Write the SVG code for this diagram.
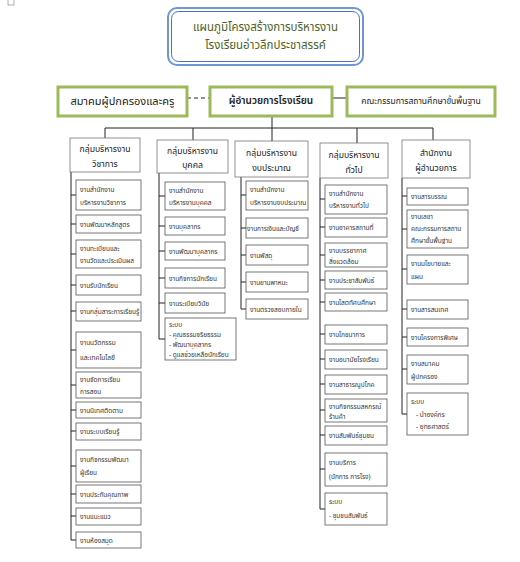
<svg xmlns="http://www.w3.org/2000/svg" width="520" height="562" viewBox="0 0 520 562">
<style>
text{font-family:"Noto Sans Thai","Tahoma","DejaVu Sans",sans-serif;}
.bg{fill:#fff}
.tt{font-size:11.5px;fill:#4f6228;text-anchor:middle}
.gb{fill:#fff;stroke:#9bbb59;stroke-width:3}
.hd{fill:#fff;stroke:#777;stroke-width:0.8}
.ht{font-size:8.6px;fill:#222;text-anchor:middle}
.it{fill:#fff;stroke:#555;stroke-width:0.8}
.t{font-size:6.5px;fill:#333}
.c{stroke:#222;stroke-width:1;fill:none}
</style>
<rect class="bg" x="0" y="0" width="520" height="562"/>
<path d="M8 0V5H14V0" fill="none" stroke="#999" stroke-width="0.8"/>
<g id="title">
<rect x="168" y="8" width="195" height="57" rx="9" fill="#fff" stroke="#6d96d4" stroke-width="2"/>
<rect x="171.5" y="11.5" width="188" height="50" rx="7" fill="none" stroke="#4472c4" stroke-width="1"/>
<text class="tt" x="265.5" y="31">แผนภูมิโครงสร้างการบริหารงาน</text>
<text class="tt" x="265.5" y="49">โรงเรียนอ่าวลึกประชาสรรค์</text>
</g>
<g id="connectors">
<path class="c" d="M187 98H210" stroke-dasharray="4,3"/>
<path class="c" d="M332 98H347"/>
<path class="c" d="M272 116V128M105 128H433M105 128V138M193 128V140M272 128V141M357 128V143M433 128V140"/>
<path class="c" d="M71 172V540M71 195H76M71 224H76M71 254H76M71 285H76M71 311H76M71 350H76M71 385H76M71 410H76M71 431H76M71 466H76M71 494H76M71 516H76M71 540H76"/>
<path class="c" d="M159 173V339M159 196H165M159 226H165M159 251H165M159 278H165M159 303H165M159 339H165"/>
<path class="c" d="M241 177V309M241 195H246M241 228H246M241 255H246M241 282H246M241 309H246"/>
<path class="c" d="M320 178V509M320 199H325M320 227H325M320 255H325M320 280H325M320 302H325M320 334H325M320 359H325M320 384H325M320 410H325M320 435H325M320 469H325M320 509H325"/>
<path class="c" d="M402 178V414M402 196H407M402 229H407M402 269H407M402 309H407M402 337H407M402 369H407M402 414H407"/>
</g>
<g id="association">
<rect class="gb" x="58" y="87" width="129" height="29"/>
<text x="122.5" y="105" font-size="11" fill="#222" text-anchor="middle">สมาคมผู้ปกครองและครู</text>
</g>
<g id="director">
<rect class="gb" x="210" y="87" width="122" height="29"/>
<text x="271" y="104" font-size="10" font-weight="600" fill="#222" text-anchor="middle">ผู้อำนวยการโรงเรียน</text>
</g>
<g id="committee">
<rect class="gb" x="347" y="87" width="148" height="29"/>
<text x="421" y="104" font-size="8.5" fill="#222" text-anchor="middle">คณะกรรมการสถานศึกษาขั้นพื้นฐาน</text>
</g>
<g id="col1">
<rect class="hd" x="70" y="138" width="70" height="34"/>
<text class="ht" x="105" y="152">กลุ่มบริหารงาน</text>
<text class="ht" x="105" y="167">วิชาการ</text>
<rect class="it" x="76" y="180" width="65" height="30"/><text class="t" x="80" y="192">งานสำนักงาน</text><text class="t" x="80" y="205">บริหารงานวิชาการ</text>
<rect class="it" x="76" y="215" width="65" height="18"/><text class="t" x="80" y="227">งานพัฒนาหลักสูตร</text>
<rect class="it" x="76" y="240" width="65" height="28"/><text class="t" x="80" y="251">งานทะเบียนและ</text><text class="t" x="80" y="263" font-size="6">งานวัดและประเมินผล</text>
<rect class="it" x="76" y="275" width="65" height="20"/><text class="t" x="80" y="288">งานรับนักเรียน</text>
<rect class="it" x="76" y="302" width="65" height="19"/><text class="t" x="80" y="314" font-size="5.6">งานกลุ่มสาระการเรียนรู้</text>
<rect class="it" x="76" y="332" width="65" height="36"/><text class="t" x="80" y="345" font-size="7.5">งานนวัตกรรม</text><text class="t" x="80" y="360" font-size="7.5">และเทคโนโลยี</text>
<rect class="it" x="76" y="372" width="65" height="26"/><text class="t" x="80" y="382" font-size="6">งานจัดการเรียน</text><text class="t" x="80" y="394" font-size="6">การสอน</text>
<rect class="it" x="76" y="402" width="65" height="16"/><text class="t" x="80" y="413" font-size="8">งานนิเทศติดตาม</text>
<rect class="it" x="76" y="423" width="65" height="17"/><text class="t" x="80" y="434">งานระบบเรียนรู้</text>
<rect class="it" x="76" y="450" width="65" height="32"/><text class="t" x="80" y="462">งานกิจกรรมพัฒนา</text><text class="t" x="80" y="475">ผู้เรียน</text>
<rect class="it" x="76" y="485" width="65" height="18"/><text class="t" x="80" y="497">งานประกันคุณภาพ</text>
<rect class="it" x="76" y="508" width="65" height="17"/><text class="t" x="80" y="519">งานแนะแนว</text>
<rect class="it" x="76" y="532" width="65" height="16"/><text class="t" x="80" y="543">งานห้องสมุด</text>
</g>
<g id="col2">
<rect class="hd" x="157" y="140" width="71" height="33"/>
<text class="ht" x="192.5" y="154">กลุ่มบริหารงาน</text>
<text class="ht" x="192.5" y="168">บุคคล</text>
<rect class="it" x="165" y="182" width="60" height="28"/><text class="t" x="169" y="193">งานสำนักงาน</text><text class="t" x="169" y="205">บริหารงานบุคคล</text>
<rect class="it" x="165" y="217" width="60" height="18"/><text class="t" x="169" y="229">งานบุคลากร</text>
<rect class="it" x="165" y="242" width="60" height="18"/><text class="t" x="169" y="254">งานพัฒนาบุคลากร</text>
<rect class="it" x="165" y="268" width="60" height="20"/><text class="t" x="169" y="281">งานกิจการนักเรียน</text>
<rect class="it" x="165" y="293" width="60" height="20"/><text class="t" x="169" y="306">งานระเบียบวินัย</text>
<rect class="it" x="165" y="318" width="71" height="42"/><text class="t" x="169" y="327">ระบบ</text><text class="t" x="169" y="337">- คุณธรรมจริยธรรม</text><text class="t" x="169" y="347">- พัฒนาบุคลากร</text><text class="t" x="169" y="357">- ดูแลช่วยเหลือนักเรียน</text>
</g>
<g id="col3">
<rect class="hd" x="235" y="141" width="73" height="36"/>
<text class="ht" x="271.5" y="156">กลุ่มบริหารงาน</text>
<text class="ht" x="271.5" y="171">งบประมาณ</text>
<rect class="it" x="246" y="181" width="62" height="29"/><text class="t" x="250" y="192">งานสำนักงาน</text><text class="t" x="250" y="205" font-size="6">บริหารงานงบประมาณ</text>
<rect class="it" x="246" y="218" width="62" height="20"/><text class="t" x="247" y="231">งานการเงินและบัญชี</text>
<rect class="it" x="246" y="245" width="62" height="20"/><text class="t" x="250" y="258">งานพัสดุ</text>
<rect class="it" x="246" y="272" width="62" height="20"/><text class="t" x="250" y="285">งานยานพาหนะ</text>
<rect class="it" x="246" y="299" width="62" height="20"/><text class="t" x="250" y="312">งานตรวจสอบภายใน</text>
</g>
<g id="col4">
<rect class="hd" x="320" y="143" width="68" height="35"/>
<text class="ht" x="354" y="158">กลุ่มบริหารงาน</text>
<text class="ht" x="354" y="173">ทั่วไป</text>
<rect class="it" x="325" y="185" width="62" height="29"/><text class="t" x="329" y="196">งานสำนักงาน</text><text class="t" x="329" y="208">บริหารงานทั่วไป</text>
<rect class="it" x="325" y="218" width="62" height="19"/><text class="t" x="329" y="230">งานอาคารสถานที่</text>
<rect class="it" x="325" y="243" width="62" height="24"/><text class="t" x="329" y="253">งานบรรยากาศ</text><text class="t" x="329" y="264">สิ่งแวดล้อม</text>
<rect class="it" x="325" y="271" width="62" height="18"/><text class="t" x="329" y="283">งานประชาสัมพันธ์</text>
<rect class="it" x="325" y="293" width="62" height="18"/><text class="t" x="329" y="305">งานโสตทัศนศึกษา</text>
<rect class="it" x="325" y="325" width="62" height="19"/><text class="t" x="329" y="337">งานโภชนาการ</text>
<rect class="it" x="325" y="350" width="62" height="19"/><text class="t" x="329" y="362">งานอนามัยโรงเรียน</text>
<rect class="it" x="325" y="375" width="62" height="19"/><text class="t" x="329" y="387">งานสาธารณูปโภค</text>
<rect class="it" x="325" y="399" width="62" height="23"/><text class="t" x="329" y="409">งานกิจกรรมสหกรณ์</text><text class="t" x="329" y="419">ร้านค้า</text>
<rect class="it" x="325" y="426" width="62" height="19"/><text class="t" x="329" y="438">งานสัมพันธ์ชุมชน</text>
<rect class="it" x="325" y="453" width="62" height="33"/><text class="t" x="329" y="465">งานบริการ</text><text class="t" x="329" y="479">(นักการ  ภารโรง)</text>
<rect class="it" x="325" y="493" width="62" height="32"/><text class="t" x="329" y="504">ระบบ</text><text class="t" x="329" y="518">- ชุมชนสัมพันธ์</text>
</g>
<g id="col5">
<rect class="hd" x="402" y="140" width="68" height="38"/>
<text class="ht" x="436" y="156">สำนักงาน</text>
<text class="ht" x="436" y="171">ผู้อำนวยการ</text>
<rect class="it" x="407" y="188" width="61" height="17"/><text class="t" x="411" y="199">งานสารบรรณ</text>
<rect class="it" x="407" y="210" width="61" height="38"/><text class="t" x="411" y="219">งานเลขา</text><text class="t" x="411" y="231">คณะกรรมการสถาน</text><text class="t" x="411" y="243">ศึกษาขั้นพื้นฐาน</text>
<rect class="it" x="407" y="255" width="61" height="29"/><text class="t" x="411" y="266">งานนโยบายและ</text><text class="t" x="411" y="279">แผน</text>
<rect class="it" x="407" y="300" width="61" height="19"/><text class="t" x="411" y="312">งานสารสนเทศ</text>
<rect class="it" x="407" y="328" width="61" height="18"/><text class="t" x="411" y="340">งานโครงการพิเศษ</text>
<rect class="it" x="407" y="355" width="61" height="29"/><text class="t" x="411" y="366">งานสมาคม</text><text class="t" x="411" y="379">ผู้ปกครอง</text>
<rect class="it" x="407" y="393" width="61" height="42"/><text class="t" x="411" y="404">ระบบ</text><text class="t" x="416" y="417">- นำองค์กร</text><text class="t" x="416" y="429">- ยุทธศาสตร์</text>
</g>
</svg>
